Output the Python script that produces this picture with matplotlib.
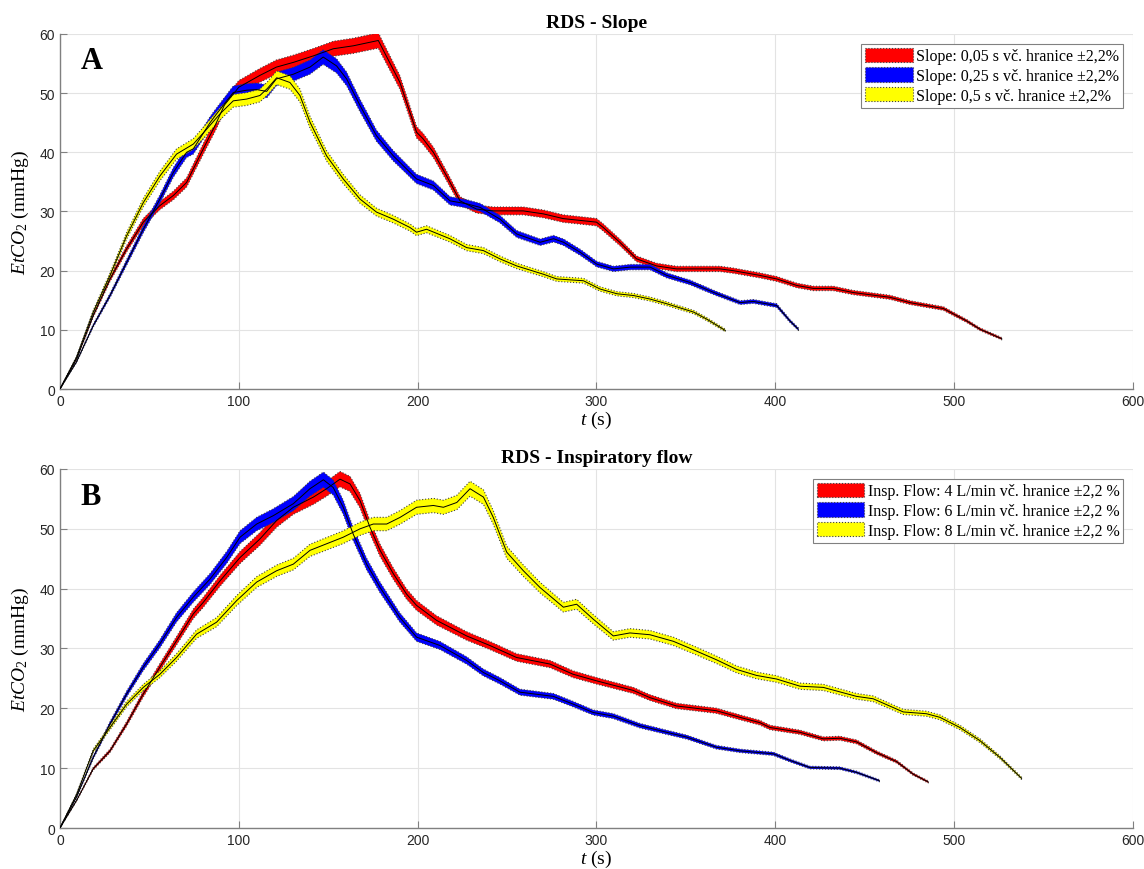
import matplotlib
matplotlib.use("Agg")
import matplotlib.pyplot as plt
import numpy as np
from matplotlib.patches import Patch

# ---------------- data ----------------
# Panel A - Slope
a_red_t = [0, 9.3, 18.6, 28, 37.3, 46.6, 55.9, 63.4, 70.8, 76.4, 82, 86.7, 92, 100, 111.8, 121, 130.5,
           141.7, 152.8, 164, 178, 190.1, 199.4, 203, 208.8, 216.2, 223.7, 233, 242.3, 259.1, 270.3,
           281.4, 300, 303.8, 313, 322.4, 333.6, 344.7, 369, 376.5, 391.4, 400.8, 412, 421.3, 432.4,
           443.6, 464.1, 475.3, 494, 499.5, 507, 514.5, 526.6]
a_red_y = [0, 5.1, 12.4, 18.6, 23.7, 28.2, 31, 32.7, 34.9, 38.3, 41.7, 44.5, 48, 51, 53, 54.4, 55.2,
           56.3, 57.5, 58, 58.9, 51.8, 43.4, 42.3, 40, 36, 31.8, 30.4, 30.1, 30.1, 29.6,
           28.8, 28.2, 27.3, 24.8, 22, 20.8, 20.3, 20.3, 20, 19.2, 18.6, 17.5, 17, 17,
           16.3, 15.5, 14.6, 13.6, 12.7, 11.5, 10.1, 8.5]

a_blue_t = [0, 9.3, 18.6, 28, 37.3, 46.6, 55.9, 63.4, 70.8, 74.6, 83.9, 87.6, 96.9, 104.4, 110, 115.6,
            121, 130.5, 139.8, 147.2, 154.7, 160.3, 167.8, 177, 186.4, 190.1, 199.4, 208.8, 218.1,
            227.4, 234.9, 246.1, 255.4, 268.5, 276, 281.6, 290.9, 300.2, 309.5, 318.8, 330, 339.3,
            352.4, 367.3, 380.3, 387.7, 400.8, 408.2, 412.9]
a_blue_y = [0, 4.6, 10.7, 15.8, 21.4, 27, 32.1, 36.6, 40, 40.6, 45, 46.5, 50.1, 50.5, 50.6, 50.3,
            52.4, 53.2, 54.4, 56.1, 54.6, 52.4, 47.9, 42.8, 39.4, 38.3, 35.5, 34.4, 31.8,
            31.3, 30.7, 28.7, 26.2, 24.8, 25.4, 24.8, 23.1, 21.1, 20.3, 20.6, 20.6, 19.2,
            18, 16.1, 14.6, 14.8, 14.1, 11.5, 10.1]

a_yel_t = [0, 9.3, 18.6, 28, 37.3, 46.6, 55.9, 65.2, 74.6, 82, 89.5, 96.9, 104.4, 111.8, 116, 121.2,
           128.6, 134.2, 139.8, 149.1, 158.4, 167.8, 177, 186.4, 195.7, 199.4, 205, 218, 227.4,
           236.7, 246, 255.4, 270.3, 277.8, 292.7, 302, 311.4, 320.7, 330, 339.4, 354.3, 361.7, 372]
a_yel_y = [0, 5.4, 13, 19.2, 25.9, 31.5, 36, 39.7, 41.4, 43.9, 46.5, 48.7, 49, 49.6, 50.8, 52.6,
           51.8, 49.6, 45.1, 39.4, 35.5, 32.1, 29.9, 28.7, 27.3, 26.5, 27, 25.4, 23.9,
           23.4, 22, 20.8, 19.4, 18.6, 18.3, 16.9, 16.1, 15.8, 15.2, 14.4, 13, 11.8, 9.9]

# Panel B - Inspiratory flow
b_red_t = [0, 9.3, 18.6, 28, 37.3, 46.6, 55.9, 65.2, 74.6, 80.1, 89.5, 100.7, 111.8, 121.2, 130.5,
           141.7, 149.1, 156.6, 162.2, 167.8, 173.3, 179, 186.4, 193.8, 199.4, 210.6, 227.4, 240.4,
           255.3, 274, 286.9, 300, 320.5, 329.8, 344.7, 367, 380.2, 391.4, 397, 413.8, 426.8, 436.1,
           445.4, 456.6, 467.8, 477.1, 485.5]
b_red_y = [0, 4.6, 9.9, 12.9, 17.4, 22.4, 26.9, 31.3, 35.8, 37.7, 41.3, 45.2, 48.3, 51.4, 53.6,
           55.3, 56.7, 58.3, 57.5, 54.7, 50.3, 46.4, 42.5, 39.1, 37.2, 34.7, 32.1, 30.5,
           28.5, 27.4, 25.7, 24.6, 23, 21.8, 20.4, 19.6, 18.5, 17.6, 16.8, 16, 14.9, 15,
           14.4, 12.6, 11.1, 9, 7.7]

b_blue_t = [0, 9.3, 18.6, 28, 37.3, 46.6, 55.9, 65.2, 74.6, 83.9, 93.2, 100.7, 110, 119.3, 130.5,
            139.8, 147.3, 152.8, 158.4, 164, 171.5, 179, 190, 199.4, 212.5, 227.4, 236.7, 246,
            257.2, 275.9, 287, 298.2, 309.4, 324.3, 339.2, 350.4, 367.1, 380.2, 398.9, 408.2,
            419.4, 436.1, 445.4, 458.2]
b_blue_y = [0, 5.2, 11.8, 17.4, 22.4, 26.9, 30.8, 35.2, 38.6, 41.6, 45.2, 48.6, 50.8, 52.2, 54.2,
            56.7, 58.2, 56.9, 53.6, 49.1, 44.1, 40.2, 35.2, 31.9, 30.5, 28, 26, 24.6,
            22.7, 22, 20.7, 19.3, 18.7, 17.1, 16, 15.2, 13.5, 12.9, 12.4, 11.3,
            10.1, 10, 9.3, 7.9]

b_yel_t = [0, 9.3, 18.6, 28, 37.3, 46.6, 55.9, 65.2, 76.4, 87.6, 98.8, 110, 121.2, 130.5, 139.8,
           149.1, 158.4, 167.8, 175.2, 182.7, 190.1, 199.4, 208.8, 214.4, 221.9, 229.3, 236.8,
           242.3, 249.8, 259.1, 268.4, 281.5, 288.9, 298.2, 309.4, 318.7, 329.9, 343, 354.1,
           367.2, 378.4, 389.5, 400.7, 413.8, 426.8, 445.4, 454.7, 471.5, 484.5, 492, 503.2,
           514.4, 525.6, 537.7]
b_yel_y = [0, 5.6, 12.9, 16.8, 20.7, 23.5, 25.7, 28.5, 32.4, 34.4, 38, 41.1, 43, 44.1, 46.4,
           47.5, 48.6, 50, 50.8, 50.8, 51.9, 53.6, 53.9, 53.6, 54.4, 56.7, 55.3,
           51.9, 46.1, 43, 40.2, 36.9, 37.4, 34.9, 32.1, 32.6, 32.3, 31.2, 29.8,
           28.1, 26.5, 25.5, 24.9, 23.7, 23.5, 22, 21.6, 19.4, 19.1, 18.5, 16.8,
           14.6, 11.8, 8.3]

colors = ["#ff0000", "#0000ff", "#ffff00"]
labels_a = ["Slope: 0,05 s vč. hranice ±2,2%",
            "Slope: 0,25 s vč. hranice ±2,2%",
            "Slope: 0,5 s vč. hranice ±2,2%"]
labels_b = ["Insp. Flow: 4 L/min vč. hranice ±2,2 %",
            "Insp. Flow: 6 L/min vč. hranice ±2,2 %",
            "Insp. Flow: 8 L/min vč. hranice ±2,2 %"]
tol = 0.022
titles = ["RDS - Slope", "RDS - Inspiratory flow"]
panel_letters = ["A", "B"]
xticks = [0, 100, 200, 300, 400, 500, 600]
yticks = [0, 10, 20, 30, 40, 50, 60]

# ---------------- styling ----------------
plt.rcParams["font.family"] = ["Liberation Sans", "DejaVu Sans"]
plt.rcParams["mathtext.fontset"] = "custom"
plt.rcParams["mathtext.rm"] = "Liberation Serif"
plt.rcParams["mathtext.it"] = "Liberation Serif:italic"
plt.rcParams["mathtext.bf"] = "Liberation Serif:bold"
SERIF = ["Liberation Serif", "DejaVu Serif"]

fig = plt.figure(figsize=(11.44, 8.70), dpi=100)
axA = fig.add_axes([0.0524, 0.5517, 0.938, 0.4081])
axB = fig.add_axes([0.0524, 0.0471, 0.938, 0.4127])

panels = [
    (axA, [(a_red_t, a_red_y), (a_blue_t, a_blue_y), (a_yel_t, a_yel_y)], labels_a),
    (axB, [(b_red_t, b_red_y), (b_blue_t, b_blue_y), (b_yel_t, b_yel_y)], labels_b),
]

for i, (ax, series, labels) in enumerate(panels):
    handles = []
    for (t, y), c, lab in zip(series, colors, labels):
        t = np.asarray(t, float)
        y = np.asarray(y, float)
        ax.fill_between(t, y * (1 - tol), y * (1 + tol), facecolor=c,
                        edgecolor="0.25", linestyle=":", linewidth=0.8, zorder=3)
        ax.plot(t, y, color="black", linewidth=0.7, zorder=4)
        handles.append(Patch(facecolor=c, edgecolor="0.25", linestyle=":", linewidth=0.8, label=lab))

    ax.set_xlim(0, 600)
    ax.set_ylim(0, 60)
    ax.set_xticks(xticks)
    ax.set_yticks(yticks)
    ax.grid(True, color="#e3e3e3", linewidth=0.8)
    ax.set_axisbelow(True)
    for s in ["top", "right"]:
        ax.spines[s].set_visible(False)
    for s in ["left", "bottom"]:
        ax.spines[s].set_color("#808080")
        ax.spines[s].set_linewidth(1.0)
    ax.tick_params(direction="in", length=5, color="#808080", labelsize=10, labelcolor="#262626")

    ax.set_title(titles[i], fontfamily=SERIF, fontweight="bold", fontsize=14, pad=5)
    ax.text(0.019, 0.965, panel_letters[i], transform=ax.transAxes, fontfamily=SERIF,
            fontweight="bold", fontsize=22, va="top", ha="left")
    ax.set_ylabel(r"$\mathit{EtCO}_{\mathit{2}}$ (mmHg)", fontfamily=SERIF, fontsize=14)
    ax.yaxis.set_label_coords(-0.027, 0.5)
    ax.set_xlabel(r"$\mathit{t}$ (s)", fontfamily=SERIF, fontsize=14)

    leg = ax.legend(handles=handles, loc="upper right", prop={"family": SERIF, "size": 11.5},
                    fancybox=False, framealpha=1, edgecolor="#808080", borderpad=0.25,
                    handlelength=3.0, handleheight=1.0, handletextpad=0.2, labelspacing=0.2,
                    borderaxespad=0.6)
    leg.get_frame().set_linewidth(0.8)

axA.xaxis.set_label_coords(0.5, -0.057)
axB.xaxis.set_label_coords(0.5, -0.055)

fig.savefig("out.png", dpi=100)
